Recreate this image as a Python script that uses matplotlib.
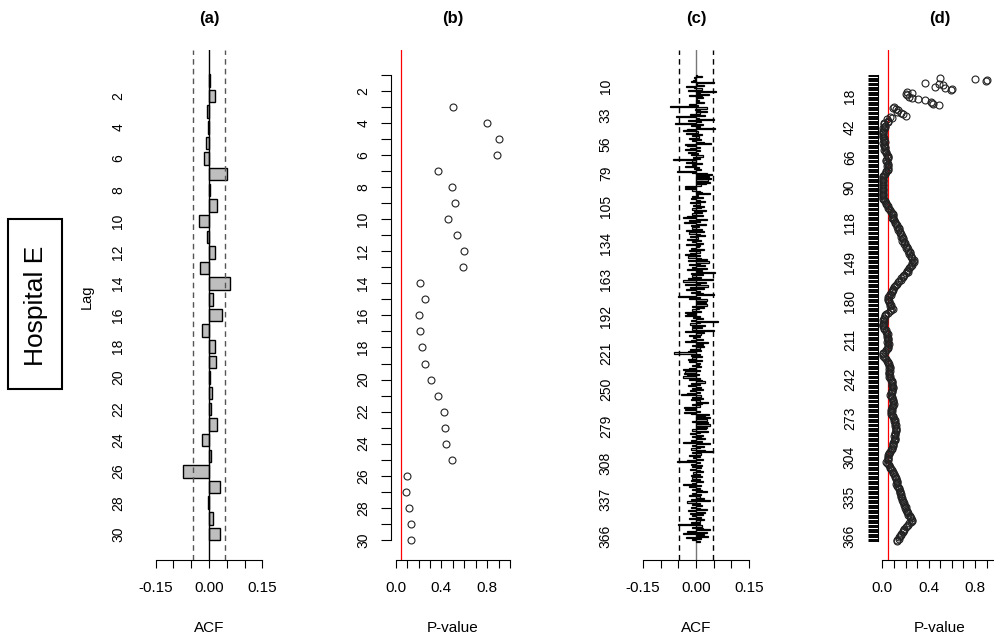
import numpy as np
import matplotlib.pyplot as plt
from matplotlib.patches import Rectangle

plt.rcParams['font.family'] = ['Liberation Sans', 'DejaVu Sans']

W, H = 994, 642
nan = np.nan

# (a) ACF, lags 1-30
lags30 = np.arange(1, 31)
acf30 = [0.002, 0.016, -0.005, -0.003, -0.008, -0.015, 0.050, 0.002, 0.022, -0.029,
         -0.005, 0.016, -0.024, 0.058, 0.011, 0.037, -0.021, 0.016, 0.019, 0.003,
         0.008, 0.007, 0.022, -0.021, 0.005, -0.073, 0.031, -0.003, 0.011, 0.031]

# (b) Ljung-Box p-values, lags 1-30
pval30 = [nan, nan, 0.50, 0.80, 0.90, 0.89, 0.37, 0.49, 0.52, 0.455,
          0.54, 0.60, 0.59, 0.21, 0.26, 0.20, 0.21, 0.23, 0.26, 0.31,
          0.37, 0.42, 0.43, 0.44, 0.49, 0.10, 0.09, 0.116, 0.137, 0.13]

# (c) ACF, lags 1-370
acf370 = acf30 + [
    0.012, -0.018, 0.025, -0.057, 0.008, 0.050, -0.022, 0.015, -0.060, 0.020,
    -0.015, 0.010, 0.054, -0.025, -0.036, 0.005, -0.028, 0.018, -0.012, 0.008,
    -0.020, 0.015, -0.010, 0.022, 0.042, -0.030, -0.025, 0.012, -0.018, -0.032,
    0.010, -0.022, 0.006, -0.015, 0.020, -0.008, 0.012, -0.066, -0.010, -0.028,
    0.016, -0.012, -0.030, 0.008, -0.006, 0.015, -0.053, -0.010, 0.030, 0.044,
    0.038, 0.025, 0.042, 0.033, 0.020, 0.040, 0.028, 0.015, -0.030, -0.025,
    -0.032, -0.012, 0.010, 0.018, 0.040, 0.005, -0.010, 0.020, -0.015, 0.012,
    0.025, -0.018, 0.010, -0.008, 0.022, 0.015, -0.012, 0.028, -0.006, 0.018,
    -0.010, 0.020, -0.025, -0.038, 0.030, -0.020, 0.012, -0.035, 0.028, -0.015,
    0.008, -0.012, 0.018, -0.029, 0.022, -0.020, 0.010, 0.025, -0.018, 0.006,
    -0.025, 0.015, -0.010, 0.020, -0.028, 0.012, 0.008, -0.015, 0.022, -0.020,
    0.010, -0.018, -0.030, 0.012, -0.022, 0.015, 0.030, -0.024, 0.038, 0.010,
    -0.020, 0.025, -0.012, 0.032, -0.025, 0.018, 0.054, -0.015, 0.020, -0.010,
    0.015, -0.022, 0.048, -0.036, 0.028, 0.012, -0.030, 0.035, -0.018, 0.022,
    -0.028, 0.010, -0.015, 0.020, 0.052, -0.050, 0.012, -0.020, 0.030, 0.025,
    0.028, 0.018, 0.030, -0.010, 0.022, 0.008, -0.012, 0.015, -0.030, -0.026,
    -0.030, 0.010, -0.008, 0.020, -0.015, 0.063, 0.012, -0.018, 0.025, -0.010,
    0.018, -0.012, 0.050, -0.030, 0.022, 0.015, -0.020, 0.012, -0.008, 0.020,
    -0.015, -0.030, 0.035, 0.020, -0.010, 0.022, 0.012, -0.018, 0.015, -0.022,
    -0.062, 0.010, -0.015, 0.018, -0.010, -0.022, 0.016, -0.020, 0.012, 0.008,
    -0.012, 0.015, -0.020, -0.038, 0.010, -0.030, -0.035, 0.008, -0.025, -0.038,
    0.012, -0.020, 0.018, 0.025, -0.015, 0.010, -0.022, 0.015, -0.010, 0.020,
    -0.018, 0.012, -0.025, -0.043, 0.015, -0.012, 0.020, -0.015, 0.010, 0.035,
    0.018, -0.010, 0.012, -0.034, -0.025, -0.030, 0.010, -0.034, -0.015, 0.038,
    0.025, 0.040, 0.018, 0.032, -0.010, 0.035, 0.022, 0.040, 0.015, 0.030,
    0.028, -0.012, 0.035, 0.010, -0.018, 0.020, -0.010, 0.015, 0.025, -0.015,
    0.018, -0.038, 0.040, -0.012, 0.022, 0.010, -0.015, 0.025, 0.048, -0.010,
    0.015, -0.020, 0.012, -0.008, 0.020, -0.025, -0.053, 0.010, -0.015, 0.018,
    -0.012, 0.015, -0.018, 0.010, 0.020, -0.008, 0.012, -0.015, 0.018, -0.010,
    0.010, -0.015, 0.020, -0.012, -0.036, 0.015, -0.020, 0.012, -0.010, 0.018,
    0.030, -0.012, 0.015, -0.020, 0.010, 0.022, -0.015, 0.040, -0.026, 0.012,
    -0.010, 0.018, -0.015, 0.012, 0.030, -0.022, 0.025, -0.018, 0.020, -0.012,
    0.015, -0.020, 0.022, 0.010, -0.015, 0.012, -0.050, 0.018, -0.012, 0.020,
    0.040, -0.025, 0.030, -0.036, 0.022, 0.035, -0.028, 0.015, -0.010, 0.012]

# (d) Ljung-Box p-values, lags 1-370
pval370 = pval30 + [
    0.16, 0.18, 0.20, 0.07, 0.08, 0.04, 0.045, 0.05, 0.015, 0.018,
    0.02, 0.022, 0.008, 0.012, 0.006, 0.008, 0.005, 0.007, 0.008, 0.010,
    0.012, 0.015, 0.018, 0.020, 0.010, 0.012, 0.015, 0.020, 0.025, 0.018,
    0.025, 0.030, 0.035, 0.040, 0.045, 0.050, 0.048, 0.030, 0.035, 0.038,
    0.045, 0.050, 0.040, 0.045, 0.048, 0.052, 0.030, 0.032, 0.025, 0.015,
    0.010, 0.008, 0.005, 0.004, 0.004, 0.003, 0.003, 0.004, 0.003, 0.003,
    0.002, 0.003, 0.004, 0.005, 0.004, 0.005, 0.006, 0.008, 0.010, 0.015,
    0.020, 0.028, 0.030, 0.038, 0.045, 0.050, 0.060, 0.065, 0.075, 0.080,
    0.090, 0.095, 0.090, 0.085, 0.095, 0.100, 0.110, 0.105, 0.120, 0.125,
    0.130, 0.140, 0.145, 0.135, 0.150, 0.155, 0.160, 0.170, 0.165, 0.175,
    0.180, 0.170, 0.185, 0.195, 0.190, 0.200, 0.210, 0.205, 0.220, 0.225,
    0.235, 0.240, 0.230, 0.245, 0.250, 0.260, 0.270, 0.265, 0.275, 0.260,
    0.255, 0.250, 0.240, 0.230, 0.225, 0.215, 0.220, 0.200, 0.190, 0.180,
    0.175, 0.165, 0.160, 0.140, 0.135, 0.130, 0.120, 0.110, 0.100, 0.095,
    0.090, 0.085, 0.080, 0.070, 0.075, 0.055, 0.050, 0.045, 0.050, 0.055,
    0.060, 0.065, 0.075, 0.070, 0.080, 0.090, 0.075, 0.070, 0.050, 0.035,
    0.025, 0.020, 0.015, 0.012, 0.010, 0.015, 0.012, 0.010, 0.008, 0.010,
    0.012, 0.015, 0.030, 0.035, 0.040, 0.045, 0.040, 0.042, 0.045, 0.050,
    0.048, 0.040, 0.050, 0.055, 0.050, 0.045, 0.050, 0.040, 0.030, 0.020,
    0.010, 0.008, 0.010, 0.015, 0.020, 0.030, 0.040, 0.045, 0.050, 0.055,
    0.060, 0.065, 0.070, 0.060, 0.065, 0.060, 0.055, 0.060, 0.065, 0.060,
    0.070, 0.075, 0.080, 0.085, 0.080, 0.085, 0.082, 0.088, 0.090, 0.085,
    0.080, 0.085, 0.078, 0.070, 0.075, 0.080, 0.085, 0.090, 0.088, 0.095,
    0.098, 0.092, 0.095, 0.085, 0.080, 0.078, 0.082, 0.075, 0.078, 0.085,
    0.090, 0.095, 0.100, 0.105, 0.100, 0.108, 0.110, 0.115, 0.112, 0.118,
    0.120, 0.115, 0.118, 0.110, 0.105, 0.108, 0.100, 0.105, 0.110, 0.105,
    0.100, 0.090, 0.095, 0.088, 0.090, 0.085, 0.080, 0.078, 0.070, 0.060,
    0.055, 0.050, 0.048, 0.045, 0.050, 0.045, 0.035, 0.040, 0.050, 0.060,
    0.065, 0.070, 0.078, 0.085, 0.090, 0.095, 0.100, 0.105, 0.110, 0.115,
    0.120, 0.125, 0.130, 0.125, 0.120, 0.130, 0.135, 0.140, 0.145, 0.150,
    0.155, 0.150, 0.158, 0.162, 0.165, 0.170, 0.168, 0.175, 0.180, 0.185,
    0.190, 0.195, 0.200, 0.195, 0.205, 0.210, 0.215, 0.220, 0.225, 0.235,
    0.240, 0.250, 0.255, 0.260, 0.245, 0.230, 0.220, 0.210, 0.200, 0.190,
    0.185, 0.175, 0.180, 0.165, 0.160, 0.150, 0.145, 0.140, 0.130, 0.125]
lags370 = np.arange(1, len(acf370) + 1)

ci_a = 0.046
ci_c = 0.047
p_cut = 0.05
long_labels_c = [10, 33, 56, 79, 105, 134, 163, 192, 221, 250, 279, 308, 337, 366]
long_labels_d = [18, 42, 66, 90, 118, 149, 180, 211, 242, 273, 304, 335, 366]

fig = plt.figure(figsize=(W / 100, H / 100), dpi=100)


def panel(left, right, xlim, ylim):
    ax = fig.add_axes([left / W, 1 - 560 / H, (right - left) / W, 510 / H])
    ax.set_xlim(xlim)
    ax.set_ylim(ylim)
    for s in ['top', 'right', 'left']:
        ax.spines[s].set_visible(False)
    ax.tick_params(axis='x', direction='out', length=6, width=0.8, pad=9, labelsize=11)
    return ax


def acf_xaxis(ax):
    ax.spines['bottom'].set_bounds(-0.15, 0.15)
    ax.set_xticks(np.linspace(-0.15, 0.15, 7), ['-0.15', '', '', '0.00', '', '', '0.15'])


def p_xaxis(ax):
    ax.spines['bottom'].set_bounds(0, 1)
    ax.set_xticks(np.linspace(0, 1, 11),
                  ['0.0', '', '', '', '0.4', '', '', '', '0.8', '', ''])


# (a)
ax = panel(150.3, 267.7, (-0.165, 0.165), (31.66, -0.94))
acf_xaxis(ax)
ax.barh(lags30, acf30, height=0.8, color='#BEBEBE', edgecolor='black', lw=1.0)
ax.axvline(0, color='black', lw=1)
for c in (-ci_a, ci_a):
    ax.axvline(c, color='#555555', lw=1, ls=(0, (4, 3)))
ax.set_yticks(lags30[1::2], [str(l) for l in lags30[1::2]], rotation=90, va='center')
ax.tick_params(axis='y', length=0, pad=18, labelsize=10)

# (b)
ax = panel(391.1, 514.6, (-0.04, 1.04), (31.26, -0.56))
p_xaxis(ax)
ax.spines['left'].set_visible(True)
ax.spines['left'].set_bounds(1, 30)
ax.axvline(p_cut, color='red', lw=0.9)
ax.plot(pval30, lags30, 'o', mfc='none', mec='#222222', ms=5, mew=0.8)
ax.set_yticks(lags30, [str(l) if l % 2 == 0 else '' for l in lags30], rotation=90, va='center')
ax.tick_params(axis='y', length=7, width=0.8, pad=8, labelsize=10)

# (c)
ax = panel(637.8, 754.2, (-0.165, 0.165), (384.9, -18.9))
acf_xaxis(ax)
ax.barh(lags370, acf370, height=0.9, color='#BEBEBE', edgecolor='black', lw=0.9)
ax.axvline(0, color='#777777', lw=1, zorder=0)
for c in (-ci_c, ci_c):
    ax.axvline(c, color='black', lw=1, ls=(0, (4, 3)))
ax.set_yticks(long_labels_c, [str(l) for l in long_labels_c], rotation=90, va='center')
ax.tick_params(axis='y', length=0, pad=18, labelsize=10)

# (d)
ax = panel(877.7, 1002.9, (-0.04, 1.04), (384.9, -18.9))
p_xaxis(ax)
ax.spines['left'].set_visible(True)
ax.spines['left'].set_bounds(1, len(lags370))
ax.axvline(p_cut, color='red', lw=0.9)
ax.plot(pval370, lags370, 'o', mfc='none', mec='#222222', ms=5, mew=0.8)
ax.set_yticks(lags370, [str(l) if l in long_labels_d else '' for l in lags370],
              rotation=90, va='center')
ax.tick_params(axis='y', length=7, width=0.7, pad=8, labelsize=10)

# titles and axis labels
for x, t in [(209, '(a)'), (453, '(b)'), (696, '(c)'), (940, '(d)')]:
    fig.text(x / W, 1 - 18 / H, t, ha='center', va='center', fontsize=12, fontweight='bold')
for x, t in [(209, 'ACF'), (453, 'P-value'), (696, 'ACF'), (940, 'P-value')]:
    fig.text(x / W, 1 - 628 / H, t, ha='center', va='center', fontsize=11)
fig.text(87 / W, 1 - 297 / H, 'Lag', ha='center', va='center', rotation=90, fontsize=10.5)

fig.add_artist(Rectangle((8 / W, 1 - 389 / H), 54 / W, 170 / H, fill=False,
                         lw=1.5, ec='black', transform=fig.transFigure))
fig.text(36 / W, 1 - 306 / H, 'Hospital E', ha='center', va='center', rotation=90, fontsize=19)

fig.savefig('out.png', dpi=100)
